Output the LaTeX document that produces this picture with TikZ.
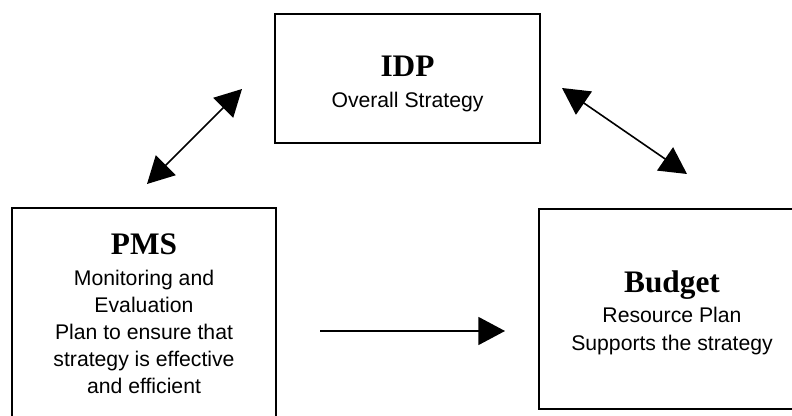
\documentclass[tikz,border=0pt]{standalone}
\usepackage{fontspec}
\setmainfont{Liberation Sans}
\newfontfamily\headfont{Liberation Serif}
\usetikzlibrary{arrows.meta}

\newcommand{\headtext}[1]{{\headfont\bfseries\fontsize{23.5}{26}\selectfont #1}}

\tikzset{
  box/.style={draw, line width=1.5pt, inner sep=0pt},
  boxtext/.style={align=center, inner sep=0pt, font=\fontsize{15.9}{20.4}\selectfont},
  link/.style={line width=1.2pt, -{Triangle[length=20pt, width=21pt]}},
  twoway/.style={line width=1.2pt, {Triangle[length=20pt, width=21pt]}-{Triangle[length=20pt, width=21pt]}}
}

\begin{document}
\begin{tikzpicture}[x=0.75pt, y=-0.75pt]
  \useasboundingbox (0,0) rectangle (792,416);

  % Draw boxes
  \node[box, minimum width=198.75pt, minimum height=96.75pt] (idp) at (407.5,78.5) {};
  \node[box, minimum width=198pt, minimum height=160.5pt] (pms) at (144,315) {};
  \node[box, minimum width=199.5pt, minimum height=150pt] (budget) at (672,309) {};

  % Box texts
  \node[boxtext] (idptext) at (407.5,84) {\headtext{IDP}\\[2.5pt] Overall Strategy};
  \node[boxtext] (pmstext) at (144,314)
    {\headtext{PMS}\\[2.5pt] Monitoring and\\ Evaluation\\ Plan to ensure that\\
     strategy is effective\\ and efficient};
  \node[boxtext] (budgettext) at (672,312.5)
    {\headtext{Budget}\\[2.5pt] Resource Plan\\ Supports the strategy};

  % Arrow ends
  \coordinate (a1) at (147,184);
  \coordinate (a2) at (242,89);
  \coordinate (b1) at (562,88);
  \coordinate (b2) at (687,174);
  \coordinate (c1) at (320,331);
  \coordinate (c2) at (505,331);

  % Connect boxes
  \draw[twoway] (a1) -- (a2);
  \draw[twoway] (b1) -- (b2);
  \draw[link] (c1) -- (c2);
\end{tikzpicture}
\end{document}
